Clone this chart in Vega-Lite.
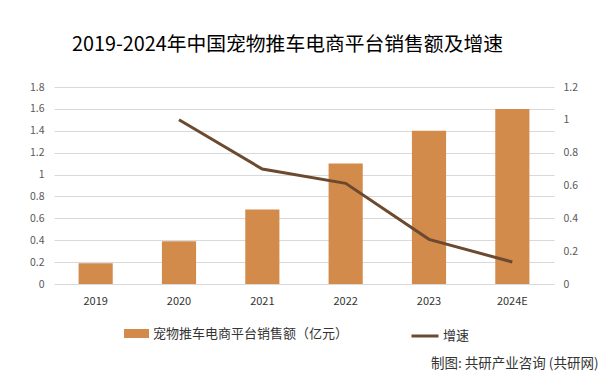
{
  "$schema": "https://vega.github.io/schema/vega-lite/v6.json",
  "width": 500,
  "height": 197,
  "autosize": {"type": "none"},
  "padding": {"left": 54, "top": 87, "right": 60, "bottom": 104},
  "background": "#ffffff",
  "config": {
    "font": "Noto Sans CJK SC",
    "view": {"stroke": null},
    "legend": {"padding": 0, "labelFontSize": 13, "labelColor": "#333333", "labelFont": "Noto Sans CJK SC", "labelLimit": 400}
  },
  "title": {
    "text": "2019-2024年中国宠物推车电商平台销售额及增速",
    "anchor": "start",
    "frame": "group",
    "dx": 18,
    "offset": 27,
    "fontSize": 19.8,
    "fontWeight": "normal",
    "color": "#000000",
    "font": "Noto Sans CJK SC"
  },
  "data": {
    "values": [
      {"year": "2019", "sales": 0.19, "growth": null},
      {"year": "2020", "sales": 0.39, "growth": 1.0},
      {"year": "2021", "sales": 0.68, "growth": 0.70},
      {"year": "2022", "sales": 1.1, "growth": 0.613},
      {"year": "2023", "sales": 1.4, "growth": 0.272},
      {"year": "2024E", "sales": 1.6, "growth": 0.134}
    ]
  },
  "encoding": {
    "x": {
      "field": "year",
      "type": "nominal",
      "sort": null,
      "scale": {"paddingInner": 0.59, "paddingOuter": 0.295},
      "axis": {
        "title": "制图: 共研产业咨询 (共研网)",
        "titleX": 544,
        "titleY": 79,
        "titleAlign": "right",
        "titleBaseline": "middle",
        "titleFontSize": 13.5,
        "titleFontWeight": "normal",
        "titleColor": "#333333",
        "labelAngle": 0,
        "labelFontSize": 11,
        "labelColor": "#333333",
        "labelPadding": 11,
        "ticks": false,
        "domain": false
      }
    }
  },
  "layer": [
    {
      "mark": {"type": "bar", "color": "#D38B4C"},
      "encoding": {
        "y": {
          "field": "sales",
          "type": "quantitative",
          "scale": {"domain": [0, 1.8]},
          "axis": {
            "title": null,
            "values": [0, 0.2, 0.4, 0.6, 0.8, 1, 1.2, 1.4, 1.6, 1.8],
            "format": "~g",
            "grid": true,
            "gridColor": "#d9d9d9",
            "gridWidth": 1,
            "domain": false,
            "ticks": false,
            "labelFontSize": 10.5,
            "labelColor": "#595959",
            "labelPadding": 10
          }
        },
        "color": {
          "datum": "宠物推车电商平台销售额（亿元）",
          "scale": {"range": ["#D38B4C"]},
          "legend": {
            "title": null,
            "orient": "none",
            "legendX": 70,
            "legendY": 234,
            "symbolType": "M-1,-0.36H1V0.36H-1Z",
            "symbolSize": 625,
            "symbolStrokeWidth": 0,
            "labelOffset": 4
          }
        }
      }
    },
    {
      "mark": {"type": "line", "strokeWidth": 3, "color": "#6B4A2F"},
      "encoding": {
        "y": {
          "field": "growth",
          "type": "quantitative",
          "scale": {"domain": [0, 1.2]},
          "axis": {
            "orient": "right",
            "title": null,
            "values": [0, 0.2, 0.4, 0.6, 0.8, 1, 1.2],
            "format": "~g",
            "grid": false,
            "domain": false,
            "ticks": false,
            "labelFontSize": 10.5,
            "labelColor": "#595959",
            "labelPadding": 9
          }
        },
        "stroke": {
          "datum": "增速",
          "scale": {"range": ["#6B4A2F"]},
          "legend": {
            "title": null,
            "orient": "none",
            "legendX": 356,
            "legendY": 234,
            "symbolType": "stroke",
            "symbolSize": 729,
            "symbolStrokeWidth": 3,
            "labelOffset": 3
          }
        }
      }
    }
  ],
  "resolve": {"scale": {"y": "independent"}}
}
